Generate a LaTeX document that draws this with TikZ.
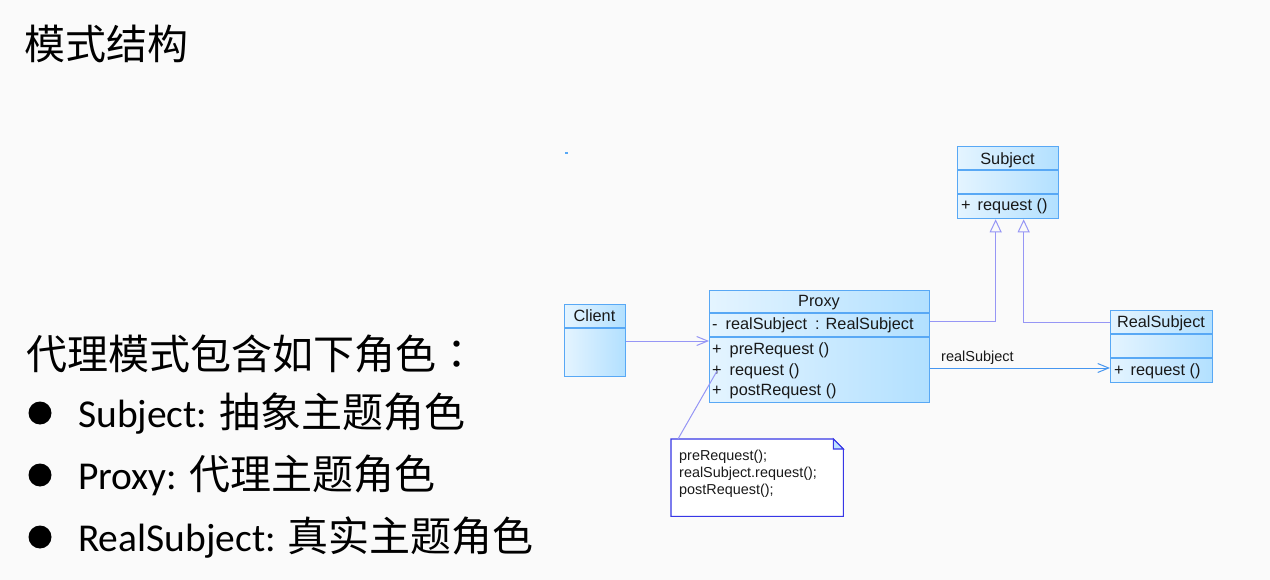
\documentclass[tikz,border=0pt]{standalone}
\usepackage{fontspec}
\setmainfont{Liberation Sans}
\newfontfamily\cjk{Noto Sans CJK SC}
\newfontfamily\cjktc{Noto Sans CJK TC}
\newfontfamily\lat{Carlito}
\usetikzlibrary{arrows.meta}
\definecolor{bg}{RGB}{250,250,250}
\definecolor{boxln}{RGB}{88,168,245}
\definecolor{fillA}{RGB}{228,244,255}
\definecolor{fillB}{RGB}{178,224,255}
\definecolor{lav}{RGB}{150,150,245}
\definecolor{assocc}{RGB}{70,150,240}
\definecolor{notec}{RGB}{55,55,230}
\definecolor{foldc}{RGB}{190,225,255}
\tikzset{
  umlbox/.style={draw=boxln, line width=1.3pt, left color=fillA, right color=fillB,
    inner sep=0pt, anchor=north west},
  divider/.style={draw=boxln, line width=1.3pt},
  boxtxt/.style={inner sep=0pt, font=\fontsize{16.3}{19}\selectfont, text=black!90},
  notetxt/.style={inner sep=0pt, font=\fontsize{14.4}{17}\selectfont, text=black!90, align=left},
  lbltxt/.style={inner sep=0pt, font=\fontsize{14.5}{17}\selectfont, text=black!90},
  genl/.style={draw=lav, line width=1pt, -{Triangle[length=13pt, width=12pt, fill=bg, line width=1pt]}},
  depl/.style={draw=lav, line width=1pt, -{Straight Barb[length=11pt, width=9pt, line width=1pt]}},
  assocl/.style={draw=assocc, line width=1pt, -{Straight Barb[length=11pt, width=9pt, line width=1pt]}},
  notel/.style={draw=lav, line width=1pt},
  bigcjk/.style={inner sep=0pt, anchor=base west, font=\cjk\fontsize{41}{48}\selectfont},
  bul/.style={circle, fill=black, inner sep=0pt, minimum size=23pt}
}
\newcommand{\latpart}[1]{{\lat\fontsize{39.5}{46}\selectfont #1}}
\newcommand{\cjkpart}[1]{{\cjk\fontsize{41}{48}\selectfont #1}}
\begin{document}
\begin{tikzpicture}[x=1pt, y=-1pt]
\fill[bg] (0,0) rectangle (1270,580);
\useasboundingbox (0,0) rectangle (1270,580);

% left text
\node[bigcjk] (title) at (24,60) {模式结构};
\node[bigcjk] (intro) at (26,369) {代理模式包含如下角色{\cjktc ：}};
\node[bul] (b1) at (40,413) {};
\node[bul] (b2) at (40,475) {};
\node[bul] (b3) at (40,537) {};
\node[inner sep=0pt, anchor=base west] (l1) at (78,427)
  {\latpart{Subject: }\cjkpart{抽象主题角色}};
\node[inner sep=0pt, anchor=base west] (l2) at (78,489)
  {\latpart{Proxy: }\cjkpart{代理主题角色}};
\node[inner sep=0pt, anchor=base west] (l3) at (78,551)
  {\latpart{RealSubject: }\cjkpart{真实主题角色}};

% small mark
\fill[boxln] (565,152) rectangle (568,154.5);

% Subject
\node[umlbox, minimum width=101pt, minimum height=72pt] (subj) at (957,146) {};
\draw[divider] (957,170) -- (1058,170);
\draw[divider] (957,194) -- (1058,194);
\node[boxtxt, anchor=base] (subjn) at (1007.5,165) {Subject};
\node[boxtxt, anchor=base west] (subjo) at (961,211) {+\hspace{7pt}request ()};

% Client
\node[umlbox, minimum width=61pt, minimum height=72pt] (client) at (564,304) {};
\draw[divider] (564,328) -- (625,328);
\node[boxtxt, anchor=base] (clientn) at (594.5,322) {Client};

% Proxy
\node[umlbox, minimum width=220pt, minimum height=112pt] (proxy) at (709,290) {};
\draw[divider] (709,313) -- (929,313);
\draw[divider] (709,337) -- (929,337);
\node[boxtxt, anchor=base] (proxyn) at (819,307) {Proxy};
\node[boxtxt, anchor=base west] (proxya) at (712,330) {-\hspace{8pt}realSubject\hspace{8pt}:\hspace{6pt}RealSubject};
\node[boxtxt, anchor=base west] (proxyo1) at (712,355) {+\hspace{8pt}preRequest ()};
\node[boxtxt, anchor=base west] (proxyo2) at (712,375) {+\hspace{8pt}request ()};
\node[boxtxt, anchor=base west] (proxyo3) at (712,395) {+\hspace{8pt}postRequest ()};

% RealSubject
\node[umlbox, minimum width=102pt, minimum height=72pt] (real) at (1110,310) {};
\draw[divider] (1110,334) -- (1212,334);
\draw[divider] (1110,358) -- (1212,358);
\node[boxtxt, anchor=base] (realn) at (1161,327) {RealSubject};
\node[boxtxt, anchor=base west] (realo) at (1114,375) {+\hspace{7pt}request ()};

% Note
\node[inner sep=0pt, minimum width=172pt, minimum height=77pt, anchor=north west] (note) at (671,439) {};
\draw[draw=notec, line width=1.1pt, fill=white]
  (note.north west) -- ([xshift=-10pt]note.north east) -- ([yshift=-10pt]note.north east)
  -- (note.south east) -- (note.south west) -- cycle;
\draw[draw=notec, line width=1.1pt, fill=foldc]
  ([xshift=-10pt]note.north east) -- ([xshift=-10pt,yshift=-10pt]note.north east)
  -- ([yshift=-10pt]note.north east) -- cycle;
\node[notetxt, anchor=north west] (notet) at (679,450)
  {preRequest();\\realSubject.request();\\postRequest();};

% connectors
\coordinate (anc) at (717,371);
\draw[notel] ([xshift=7pt]note.north west) -- (anc);
\draw[depl] (client.east |- 0,341) -- (proxy.west |- 0,341);
\draw[genl] (proxy.east |- 0,322) -| ([xshift=-12.5pt]subj.south);
\draw[genl] (real.west |- 0,323) -| ([xshift=15.5pt]subj.south);
\draw[assocl] (proxy.east |- 0,368) -- (real.west |- 0,368);
\node[lbltxt, anchor=base west] (assocl) at (941,361) {realSubject};
\end{tikzpicture}
\end{document}
